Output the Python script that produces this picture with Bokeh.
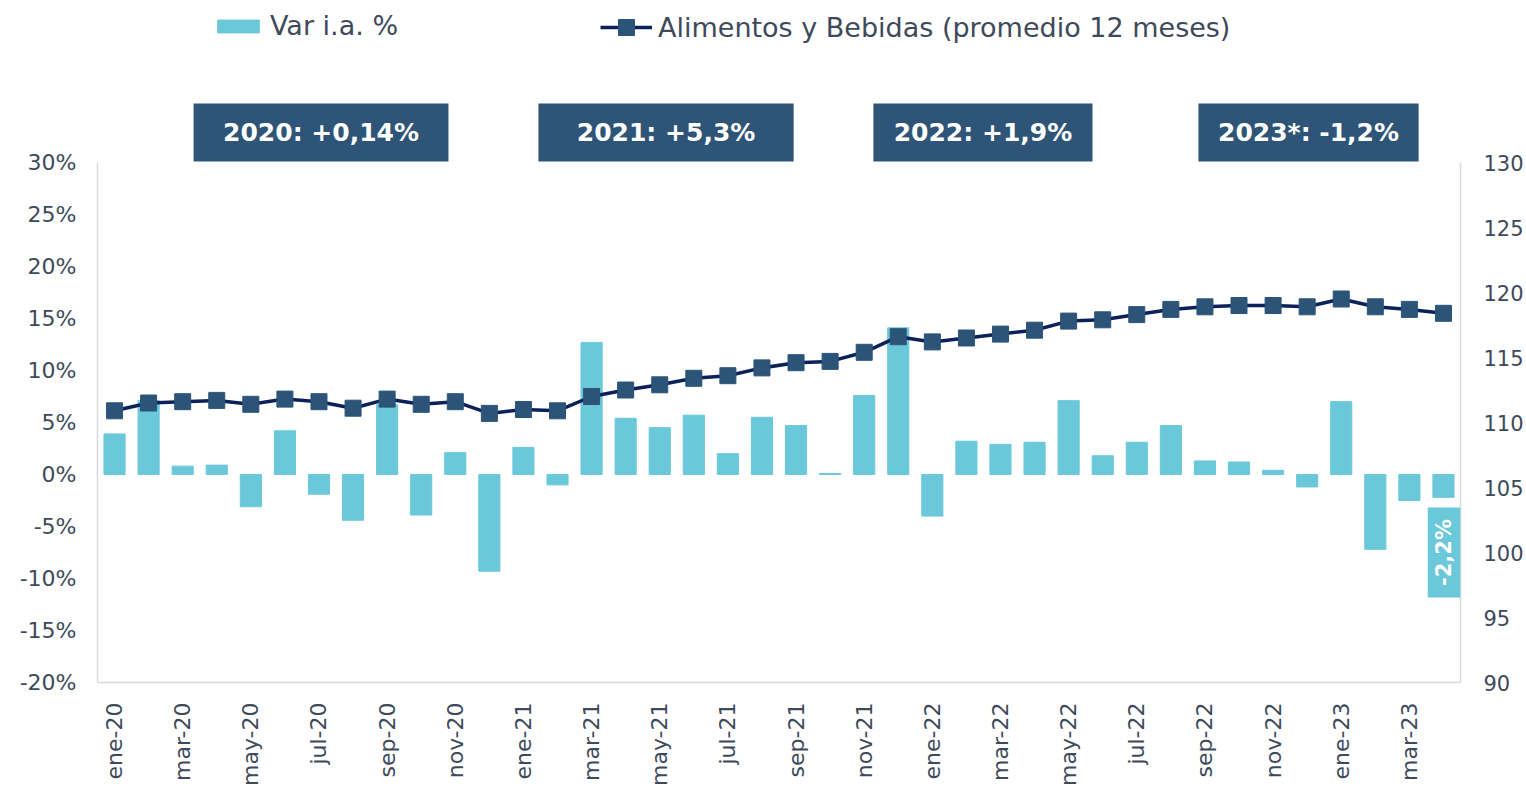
import math
from bokeh.plotting import figure
from bokeh.models import (Range1d, LinearAxis, FixedTicker, PrintfTickFormatter,
                          Legend, LegendItem, Label, BoxAnnotation, ColumnDataSource)
from bokeh.embed import file_html
from bokeh.resources import INLINE

# ---------------- data ----------------
months = ["ene-20", "feb-20", "mar-20", "abr-20", "may-20", "jun-20", "jul-20", "ago-20",
          "sep-20", "oct-20", "nov-20", "dic-20",
          "ene-21", "feb-21", "mar-21", "abr-21", "may-21", "jun-21", "jul-21", "ago-21",
          "sep-21", "oct-21", "nov-21", "dic-21",
          "ene-22", "feb-22", "mar-22", "abr-22", "may-22", "jun-22", "jul-22", "ago-22",
          "sep-22", "oct-22", "nov-22", "dic-22",
          "ene-23", "feb-23", "mar-23", "abr-23"]

var_ia = [3.9, 7.1, 0.8, 0.9, -3.1, 4.2, -1.9, -4.4, 6.7, -3.9, 2.1, -9.3,
          2.6, -1.0, 12.7, 5.4, 4.5, 5.7, 2.0, 5.5, 4.7, 0.1, 7.6, 14.1,
          -4.0, 3.2, 2.9, 3.1, 7.1, 1.8, 3.1, 4.7, 1.3, 1.2, 0.4, -1.2,
          7.0, -7.2, -2.5, -2.2]

alimentos = [110.9, 111.5, 111.6, 111.7, 111.4, 111.8, 111.6, 111.1, 111.8, 111.4, 111.6, 110.7,
             111.0, 110.9, 112.0, 112.5, 112.9, 113.4, 113.6, 114.2, 114.6, 114.7, 115.4, 116.6,
             116.2, 116.5, 116.8, 117.1, 117.8, 117.9, 118.3, 118.7, 118.9, 119.0, 119.0, 118.9,
             119.5, 118.9, 118.7, 118.4]

year_labels = ["2020: +0,14%", "2021: +5,3%", "2022: +1,9%", "2023*: -1,2%"]
last_label = "-2,2%"
legend_labels = ["Var i.a. %", "Alimentos y Bebidas (promedio 12 meses)"]
left_ticks = [-20, -15, -10, -5, 0, 5, 10, 15, 20, 25, 30]
right_ticks = [90, 95, 100, 105, 110, 115, 120, 125, 130]

# ---------------- styles ----------------
BAR = "#6AC8DA"
LINE = "#0A2159"
MARK = "#2C5479"
BOX = "#2E5577"
TXT = "#3E4A5B"
AXL = "#D9D9D9"
FONT = "DejaVu Sans"

x = list(range(len(months)))
src = ColumnDataSource(dict(x=x, v=var_ia, a=alimentos))

FRAME_H = 674
p = figure(frame_width=1363, frame_height=FRAME_H,
           x_range=Range1d(-0.5, 39.5), y_range=Range1d(-20, 44.8),
           output_backend="svg", toolbar_location=None,
           min_border_left=97, min_border_right=0, min_border_top=8, min_border_bottom=0)
p.outline_line_color = None
p.xgrid.visible = False
p.ygrid.visible = False
p.background_fill_color = "white"
p.border_fill_color = "white"

p.extra_y_ranges = {"right": Range1d(90, 90 + FRAME_H / 13.0)}

# left axis
ya = p.yaxis[0]
ya.ticker = FixedTicker(ticks=left_ticks)
ya.formatter = PrintfTickFormatter(format="%d%%")
ya.bounds = (-20, 30)
ya.axis_line_color = AXL
ya.axis_line_width = 1.5
ya.major_tick_line_color = None
ya.minor_tick_line_color = None
ya.major_label_standoff = 15
ya.major_label_text_font = FONT
ya.major_label_text_font_size = "22px"
ya.major_label_text_color = TXT

# right axis
ra = LinearAxis(y_range_name="right")
ra.ticker = FixedTicker(ticks=right_ticks)
ra.bounds = (90, 130)
ra.axis_line_color = AXL
ra.axis_line_width = 1.5
ra.major_tick_line_color = None
ra.minor_tick_line_color = None
ra.major_label_standoff = 17
ra.major_label_text_font = FONT
ra.major_label_text_font_size = "21px"
ra.major_label_text_color = TXT
p.add_layout(ra, "right")

# x axis
xa = p.xaxis[0]
xa.ticker = FixedTicker(ticks=x[::2])
xa.major_label_overrides = {i: months[i] for i in x}
xa.major_label_orientation = math.pi / 2
xa.axis_line_color = AXL
xa.axis_line_width = 1.5
xa.major_tick_line_color = None
xa.minor_tick_line_color = None
xa.major_label_standoff = 14
xa.major_label_text_font = FONT
xa.major_label_text_font_size = "22px"
xa.major_label_text_color = TXT

# bars
bars = p.vbar(x="x", top="v", bottom=0, width=0.62, source=src,
              fill_color=BAR, line_color=BAR)

# line + markers
ln = p.line(x="x", y="a", source=src, y_range_name="right", line_color=LINE, line_width=3.5)
mk = p.scatter(x="x", y="a", source=src, y_range_name="right", marker="square", size=16,
               fill_color=MARK, line_color=MARK)

# legends
lg1 = Legend(items=[LegendItem(label=legend_labels[0], renderers=[bars])],
             location=(115, 641), orientation="horizontal",
             padding=0, margin=0, border_line_color=None, background_fill_alpha=0,
             glyph_width=52, glyph_height=16, label_standoff=6,
             label_text_font=FONT, label_text_font_size="27px", label_text_color=TXT)
p.add_layout(lg1, "center")
lg2 = Legend(items=[LegendItem(label=legend_labels[1], renderers=[ln, mk])],
             location=(503, 635), orientation="horizontal",
             padding=0, margin=0, border_line_color=None, background_fill_alpha=0,
             glyph_width=52, glyph_height=40, label_standoff=6,
             label_text_font=FONT, label_text_font_size="27px", label_text_color=TXT)
p.add_layout(lg2, "center")

# year summary boxes (annotation layout positions)
box_pos = [(2.32, 9.80), (12.44, 19.93), (22.27, 28.70), (31.81, 38.27)]
for (l, r), t in zip(box_pos, year_labels):
    p.add_layout(BoxAnnotation(left=l, right=r, bottom=30.1, top=35.67,
                               fill_color=BOX, fill_alpha=1, line_color=None))
    p.add_layout(Label(x=(l + r) / 2, y=32.9, text=t, text_align="center",
                       text_baseline="middle", text_color="white", text_font=FONT,
                       text_font_style="bold", text_font_size="25px"))

# last value callout
p.add_layout(BoxAnnotation(left=38.54, right=39.5, bottom=-11.83, top=-3.17,
                           fill_color=BAR, fill_alpha=1, line_color=None))
p.add_layout(Label(x=39.03, y=-7.5, text=last_label, angle=math.pi / 2, text_align="center",
                   text_baseline="middle", text_color="white", text_font=FONT,
                   text_font_style="bold", text_font_size="21px"))

open("out.html", "w").write(file_html(p, INLINE))
